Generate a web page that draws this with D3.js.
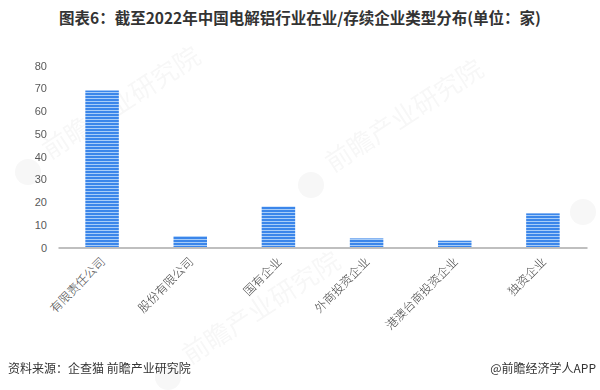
<!DOCTYPE html>
<html><head><meta charset="utf-8">
<script src="https://cdn.jsdelivr.net/npm/d3@7/dist/d3.min.js"></script>
<style>body{margin:0;background:#fff;}svg{display:block;}</style>
</head><body>
<script>
const title = "图表6：截至2022年中国电解铝行业在业/存续企业类型分布(单位：家)";
const categories = ["有限责任公司","股份有限公司","国有企业","外商投资企业","港澳台商投资企业","独资企业"];
const values = [69, 5, 18, 4, 3, 15];
const yTicks = [0,10,20,30,40,50,60,70,80];
const source = "资料来源：企查猫 前瞻产业研究院";
const credit = "@前瞻经济学人APP";

const W = 600, H = 390;
const svg = d3.select("body").append("svg").attr("width", W).attr("height", H);
const defs = svg.append("defs");
const pat = defs.append("pattern").attr("id","stripe").attr("patternUnits","userSpaceOnUse")
  .attr("width",6).attr("height",3);
pat.append("rect").attr("width",6).attr("height",3).attr("fill","#3b86ea");
pat.append("rect").attr("y",2).attr("width",6).attr("height",1).attr("fill","#a8cdf8");

// watermarks
const wm = svg.append("g").attr("fill","#000").attr("opacity",0.035)
  .style("font-family","'Noto Sans CJK SC', sans-serif");
[[50,160],[333,173],[190,365]].forEach(([x,y])=>{
  wm.append("circle").attr("cx",x-22).attr("cy",y+12).attr("r",13);
  wm.append("text").attr("transform",`translate(${x},${y}) rotate(-33)`).attr("font-size",26).text("前瞻产业研究院");
});
wm.append("circle").attr("cx",583).attr("cy",212).attr("r",13);

const x = d3.scaleBand().domain(categories).range([58, 587]).paddingInner(0.62).paddingOuter(0.31);
const y = d3.scaleLinear().domain([0, 80]).range([247.5, 65.5]);

svg.append("text").attr("x",300).attr("y",24).attr("text-anchor","middle")
  .style("font-family","'Noto Sans CJK SC', sans-serif").style("font-weight","bold")
  .attr("font-size",15.5).attr("fill","#333").text(title);

const ya = svg.append("g").attr("transform","translate(47,0)")
  .call(d3.axisLeft(y).tickValues(yTicks).tickSize(0).tickPadding(0));
ya.select(".domain").remove();
ya.selectAll("text").attr("fill","#595959").attr("font-size",11)
  .style("font-family","'Liberation Sans', Arial, sans-serif");

svg.selectAll(".bar").data(values).join("rect").attr("class","bar")
  .attr("x",(d,i)=>x(categories[i])).attr("width",x.bandwidth())
  .attr("y",d=>y(d)).attr("height",d=>y(0)-y(d)).attr("fill","url(#stripe)");

const xa = svg.append("g").attr("transform",`translate(0,${y(0)})`)
  .call(d3.axisBottom(x).tickSize(0).tickPadding(0));
xa.select(".domain").attr("stroke","#bfbfbf").attr("stroke-width",2);
xa.selectAll("text").attr("fill","#444").attr("font-size",12)
  .style("font-family","'Noto Sans CJK SC', sans-serif").style("font-weight","300")
  .attr("text-anchor","end").attr("dy",0).attr("dx",0)
  .attr("transform","translate(4,15) rotate(-45)");

svg.append("text").attr("x",8).attr("y",373).attr("font-size",12).attr("fill","#333")
  .style("font-family","'Noto Sans CJK SC', sans-serif").text(source);
svg.append("text").attr("x",596).attr("y",373).attr("font-size",12).attr("fill","#333")
  .attr("text-anchor","end").style("font-family","'Noto Sans CJK SC', sans-serif").text(credit);
</script>
</body></html>
